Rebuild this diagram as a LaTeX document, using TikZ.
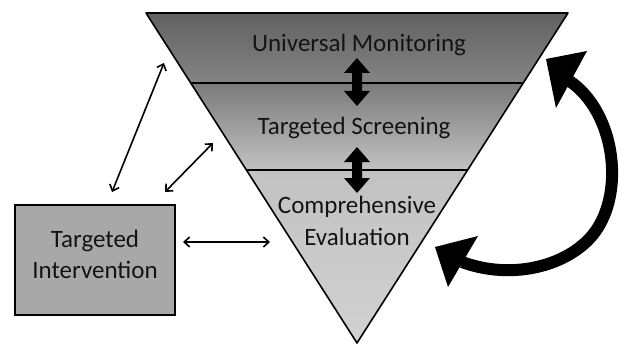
\documentclass[tikz,border=0pt]{standalone}
\usepackage{fontspec}
\setmainfont{Carlito}
\usetikzlibrary{arrows.meta}
\begin{document}
\begin{tikzpicture}[x=1pt,y=-1pt,
  lbl/.style={font=\fontsize{25}{30}\selectfont, text=black!92, inner sep=0pt, anchor=base},
  thin/.style={line width=1.6pt, {Straight Barb[length=5.5pt,width=10pt]}-{Straight Barb[length=5.5pt,width=10pt]}},
  edge/.style={line width=1.6pt, line join=round},
  bigarrow/.style={fill=black}]
\useasboundingbox (0,0) rectangle (619,345);
% bands
\shade[top color=black!62, bottom color=black!48] (146,13) -- (568,13) -- (523.2,83) -- (190.8,83) -- cycle;
\shade[top color=black!52, bottom color=black!24] (190.8,83) -- (523.2,83) -- (467.6,170) -- (246.4,170) -- cycle;
\shade[top color=black!24, bottom color=black!18] (246.4,170) -- (467.6,170) -- (357,343) -- cycle;
\draw[edge] (146,13) -- (568,13) -- (357,343) -- cycle;
\draw[edge] (190.8,83) -- (523.2,83);
\draw[edge] (246.4,170) -- (467.6,170);
% texts
\node[lbl] (um) at (359,52) {Universal Monitoring};
\node[lbl] (ts) at (354,135) {Targeted Screening};
\node[lbl] (ce) at (357,213) {Comprehensive};
\node[lbl] (ev) at (357,245) {Evaluation};
% box
\node[draw, line width=1.6pt, fill=black!34, minimum width=160pt, minimum height=110pt, inner sep=0pt] (ti) at (95,260) {};
\node[lbl] (t1) at (95,247) {Targeted};
\node[lbl] (t2) at (95,278) {Intervention};
% thick vertical double arrows
\foreach \a/\b in {58/106, 147/193}{
  \fill[bigarrow] (357,\a) -- (370,\a+15) -- (362,\a+15) -- (362,\b-15) -- (370,\b-15) -- (357,\b)
     -- (344,\b-15) -- (352,\b-15) -- (352,\a+15) -- (344,\a+15) -- cycle;
}
% thin arrows
\coordinate (a1s) at (112,192);
\coordinate (a1e) at (164,63);
\coordinate (a2s) at (165,192);
\coordinate (a2e) at (213,143);
\coordinate (a3s) at (183,242);
\coordinate (a3e) at (270,242);
\draw[thin] (a1s) -- (a1e);
\draw[thin] (a2s) -- (a2e);
\draw[thin] (a3s) -- (a3e);
% curved big arrow
\coordinate (cs) at (568,80);
\coordinate (ce2) at (462,262);
\draw[line width=12pt] (cs) .. controls (618,112) and (628,205) .. (585,243) .. controls (555,270) and (505,278) .. (ce2);
\fill[bigarrow] (546,59) -- (587,51) -- (556,108) -- cycle;
\fill[bigarrow] (435,247) -- (478,236) -- (448,287) -- cycle;
\end{tikzpicture}
\end{document}
